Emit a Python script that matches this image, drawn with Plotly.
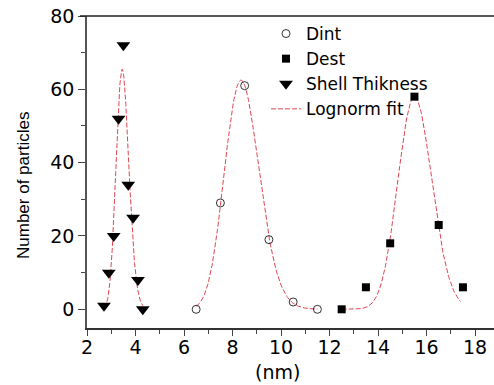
import numpy as np
import plotly.graph_objects as go

# Measured size distributions
dint_x = [6.5, 7.5, 8.5, 9.5, 10.5, 11.5]
dint_y = [0, 29, 61, 19, 2, 0]

dest_x = [12.5, 13.5, 14.5, 15.5, 16.5, 17.5]
dest_y = [0, 6, 18, 58, 23, 6]

shell_x = [2.7, 2.9, 3.1, 3.3, 3.5, 3.7, 3.9, 4.1, 4.3]
shell_y = [1, 10, 20, 52, 72, 34, 25, 8, 0]

# Lognormal fit parameters: (peak height, mode xc, log-width w, x start, x end)
fit_params = {
    "dint": (62.5, 8.35, 0.085, 6.5, 11.5),
    "dest": (58.0, 15.5, 0.045, 12.5, 17.4),
    "shell": (65.5, 3.45, 0.076, 2.7, 4.3),
}

x_ticks = [2, 4, 6, 8, 10, 12, 14, 16, 18]
y_ticks = [0, 20, 40, 60, 80]

FIT_COLOR = "rgba(222,60,72,0.95)"
WIDE_FONT = "DejaVu Sans, sans-serif"
NARROW_FONT = "Liberation Sans, Arial, sans-serif"

PLOT_W = 494 - 87
PLOT_H = 385 - 16 - 57


def lognorm_curve(h, xc, w, x0, x1):
    xs = np.linspace(x0, x1, 200)
    ys = h * np.exp(-(np.log(xs / xc)) ** 2 / (2 * w ** 2))
    return xs, ys


fig = go.Figure()

# fit curves first so the markers sit on top of them
for i, key in enumerate(["dint", "dest", "shell"]):
    xs, ys = lognorm_curve(*fit_params[key])
    fig.add_trace(go.Scatter(
        x=xs, y=ys, mode="lines", name="Lognorm fit",
        legendgroup="fit", showlegend=(i == 0), legendrank=4,
        line=dict(color=FIT_COLOR, width=1, dash="5px,2px"),
    ))

fig.add_trace(go.Scatter(
    x=dint_x, y=dint_y, mode="markers", name="Dint", legendrank=1,
    marker=dict(symbol="circle-open", size=8, color="black", line=dict(width=0.8)),
))
fig.add_trace(go.Scatter(
    x=dest_x, y=dest_y, mode="markers", name="Dest", legendrank=2,
    marker=dict(symbol="square", size=8, color="black"),
))
fig.add_trace(go.Scatter(
    x=shell_x, y=shell_y, mode="markers", name="Shell Thikness", legendrank=3,
    marker=dict(symbol="triangle-down", size=12, color="black"),
))

fig.update_layout(
    template="none",
    width=494, height=385,
    margin=dict(l=87, r=0, t=16, b=57),
    paper_bgcolor="white", plot_bgcolor="white",
    font=dict(family=WIDE_FONT, color="black"),
    showlegend=True,
    legend=dict(
        x=(266 - 87) / PLOT_W, y=1.0, xanchor="left", yanchor="top",
        font=dict(size=17, family=WIDE_FONT), bgcolor="rgba(0,0,0,0)",
        tracegroupgap=0, itemwidth=30, borderwidth=0,
    ),
    xaxis=dict(
        range=[2, 18.78], tickvals=x_ticks, ticks="outside", ticklen=6,
        tickwidth=1.2, tickcolor="#444", showgrid=False, zeroline=False,
        showline=True, linecolor="#333", linewidth=1.5, mirror=False,
        tickfont=dict(size=19, family=WIDE_FONT), ticklabelstandoff=-5,
        minor=dict(dtick=1, ticks="outside", ticklen=4, tickcolor="#444",
                   tickwidth=1.2, showgrid=False),
    ),
    yaxis=dict(
        range=[-5.1, 80], tickvals=y_ticks, ticks="outside", ticklen=7,
        tickwidth=1.2, tickcolor="#444", showgrid=False, zeroline=False,
        showline=True, linecolor="#555", linewidth=1.5, mirror=False,
        tickfont=dict(size=19, family=WIDE_FONT),
        minor=dict(dtick=10, ticks="outside", ticklen=4, tickcolor="#444",
                   tickwidth=1.2, showgrid=False),
    ),
    # top frame line, starting at the 80 tick
    shapes=[dict(
        type="line", xref="paper", yref="paper", x0=-7 / PLOT_W, x1=1, y0=1, y1=1,
        line=dict(color="#222", width=1.5),
    )],
)

# axis titles
fig.add_annotation(
    text="Number of particles", xref="paper", yref="paper",
    x=(23 - 87) / PLOT_W, y=(328 - 186) / PLOT_H, textangle=-90,
    xanchor="center", yanchor="middle", showarrow=False,
    font=dict(size=17, family=NARROW_FONT),
)
fig.add_annotation(
    text="(nm)", xref="paper", yref="paper", x=(277 - 87) / PLOT_W, y=-0.14,
    xanchor="center", yanchor="middle", showarrow=False,
    font=dict(size=19, family=WIDE_FONT),
)

fig.write_html("out.html")
